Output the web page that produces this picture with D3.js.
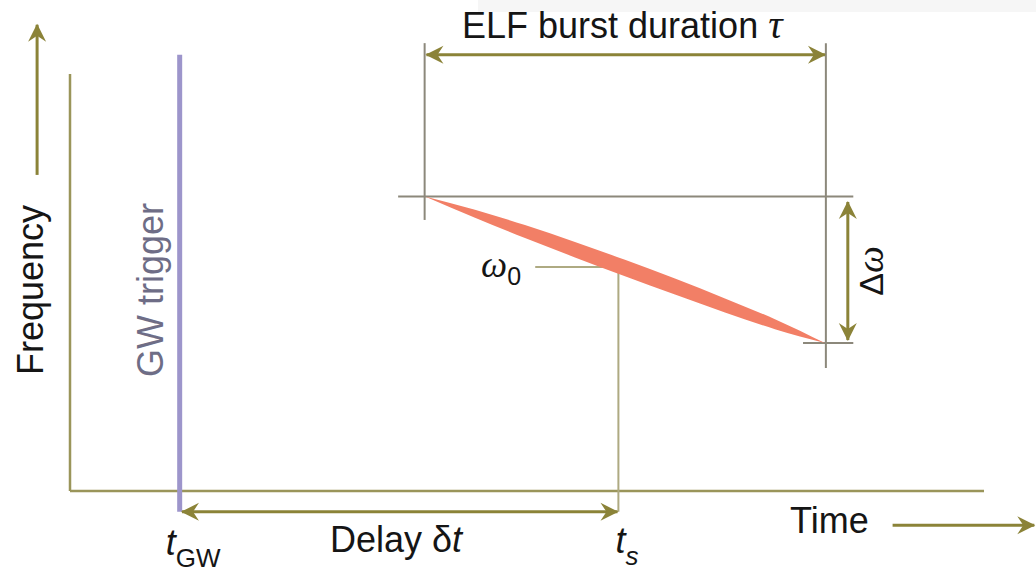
<!DOCTYPE html>
<html>
<head>
<meta charset="utf-8">
<script src="https://cdn.jsdelivr.net/npm/d3@7"></script>
<style>
  html, body { margin: 0; padding: 0; background: #fff; }
  svg { display: block; }
  text { font-family: "Liberation Sans", Arial, sans-serif; }
</style>
</head>
<body>
<svg id="chart" width="1036" height="573"></svg>
<script>
// ---- schematic data (arbitrary units: time 0..100, frequency 0..100) ----
const eventNames   = ["tGW", "ts"];
const eventTimes   = [12.0, 60.0];          // GW trigger time, burst centre time
const burstTimes   = [38.8, 82.7];          // burst start, burst end
const burstFreqs   = [70.6, 35.5];          // start frequency, end frequency
const omega0       = [60.0, 53.7];          // (ts, ω0)
const wedgeX       = [38.84, 44.31, 49.78, 55.25, 60.72, 66.19, 71.66, 77.13, 82.60];
const wedgeUpper   = [70.62, 67.43, 63.76, 59.74, 55.44, 50.94, 46.19, 41.20, 35.49];
const wedgeLower   = [70.62, 65.52, 60.65, 56.02, 51.49, 47.10, 42.83, 38.80, 35.49];
const axisLabels   = ["Time", "Frequency"];

const svg = d3.select("#chart");
const x = d3.scaleLinear().domain([0, 100]).range([70, 984]);
const y = d3.scaleLinear().domain([0, 100]).range([491, 74]);

const OLIVE = "#8b8338", AXIS = "#9a955a", GRAY = "#8c887b", LIGHT = "#aeaa82",
      PURPLE = "#9d95cb", SALMON = "#f27f66";

// faint band at top-right (scan artefact)
svg.append("rect").attr("x", 478).attr("y", 0).attr("width", 558).attr("height", 12).attr("fill", "#f6f6f6");

// arrow marker
const defs = svg.append("defs");
defs.append("marker")
  .attr("id", "ah").attr("markerUnits", "userSpaceOnUse")
  .attr("viewBox", "-20 -12 22 24").attr("refX", 0).attr("refY", 0)
  .attr("markerWidth", 22).attr("markerHeight", 24)
  .attr("orient", "auto-start-reverse")
  .append("path").attr("d", "M1,0 L-17,-9 L-11,0 L-17,9 Z").attr("fill", OLIVE);

function seg(x1, y1, x2, y2, color, w, start, end) {
  const l = svg.append("line")
    .attr("x1", x(x1)).attr("y1", y(y1)).attr("x2", x(x2)).attr("y2", y(y2))
    .attr("stroke", color).attr("stroke-width", w);
  if (start) l.attr("marker-start", "url(#ah)");
  if (end) l.attr("marker-end", "url(#ah)");
  return l;
}

// axes
seg(0, 0, 0, 100, AXIS, 2.5);
seg(0, 0, 100, 0, AXIS, 2.5);
// axis arrows
seg(-3.6, 75.8, -3.6, 111.8, OLIVE, 3, false, true);
seg(90.0, -8.2, 105.5, -8.2, OLIVE, 3, false, true);

// burst frame lines
seg(35.9, burstFreqs[0], 85.7, burstFreqs[0], GRAY, 2);
seg(80.2, burstFreqs[1], 85.7, burstFreqs[1], GRAY, 2);
seg(burstTimes[0], 65.0, burstTimes[0], 107.4, GRAY, 2);
seg(burstTimes[1], 29.5, burstTimes[1], 107.4, GRAY, 2);

// omega0 guide
svg.append("path")
  .attr("d", d3.line()([[x(50.9), y(omega0[1])], [x(omega0[0]), y(omega0[1])], [x(omega0[0]), y(-5.0)]]))
  .attr("fill", "none").attr("stroke", LIGHT).attr("stroke-width", 2);

// wedge (ELF burst)
const area = d3.area()
  .x((d, i) => x(wedgeX[i]))
  .y0((d, i) => y(wedgeLower[i]))
  .y1((d, i) => y(wedgeUpper[i]))
  .curve(d3.curveMonotoneX);
svg.append("path").attr("d", area(wedgeX)).attr("fill", SALMON);

// GW trigger line
seg(eventTimes[0], -5.0, eventTimes[0], 104.6, PURPLE, 5);

// double arrows
seg(burstTimes[0] + 0.2, 104.6, burstTimes[1] - 0.1, 104.6, OLIVE, 3, true, true);
seg(eventTimes[0] + 0.25, -5.0, eventTimes[1] - 0.1, -5.0, OLIVE, 3, true, true);
seg(85.1, 69.3, 85.1, 36.2, OLIVE, 3, true, true);

// ---- text ----
const TXT = "#151515";
svg.append("text").attr("x", 462).attr("y", 38).attr("font-size", 36).attr("fill", TXT)
  .text("ELF burst duration ")
  .append("tspan").attr("font-family", "Liberation Serif, serif").attr("font-style", "italic").attr("font-size", 40).text("τ");

svg.append("text").attr("transform", "translate(43,290) rotate(-90)")
  .attr("text-anchor", "middle").attr("font-size", 36).attr("fill", TXT).text(axisLabels[1]);

svg.append("text").attr("transform", `translate(${x(eventTimes[0]) - 17},290) rotate(-90)`)
  .attr("text-anchor", "middle").attr("font-size", 36).attr("fill", "#6e6d86").text("GW trigger");

svg.append("text").attr("transform", "translate(883,271) rotate(-90)")
  .attr("text-anchor", "middle").attr("font-size", 34).attr("fill", TXT)
  .text("Δ")
  .append("tspan").attr("font-family", "Liberation Serif, serif").attr("font-style", "italic").attr("font-size", 38).text("ω");

const w0 = svg.append("text").attr("x", 481).attr("y", 277).attr("fill", TXT);
w0.append("tspan").attr("font-family", "Liberation Serif, serif").attr("font-style", "italic").attr("font-size", 37).text("ω");
w0.append("tspan").attr("font-size", 25).attr("dy", 8).text("0");

svg.append("text").attr("x", 330).attr("y", 552).attr("font-size", 36).attr("fill", TXT)
  .text("Delay δ")
  .append("tspan").attr("font-style", "italic").text("t");

svg.append("text").attr("x", 790).attr("y", 533).attr("font-size", 36).attr("fill", TXT).text(axisLabels[0]);

const tg = svg.append("text").attr("x", x(eventTimes[0]) - 14).attr("y", 555).attr("fill", TXT);
tg.append("tspan").attr("font-style", "italic").attr("font-size", 36).text("t");
tg.append("tspan").attr("font-size", 26).attr("dy", 12).text("GW");

const ts = svg.append("text").attr("x", x(eventTimes[1]) - 3).attr("y", 553).attr("fill", TXT);
ts.append("tspan").attr("font-style", "italic").attr("font-size", 36).text("t");
ts.append("tspan").attr("font-style", "italic").attr("font-size", 26).attr("dy", 12).text("s");
</script>
</body>
</html>
